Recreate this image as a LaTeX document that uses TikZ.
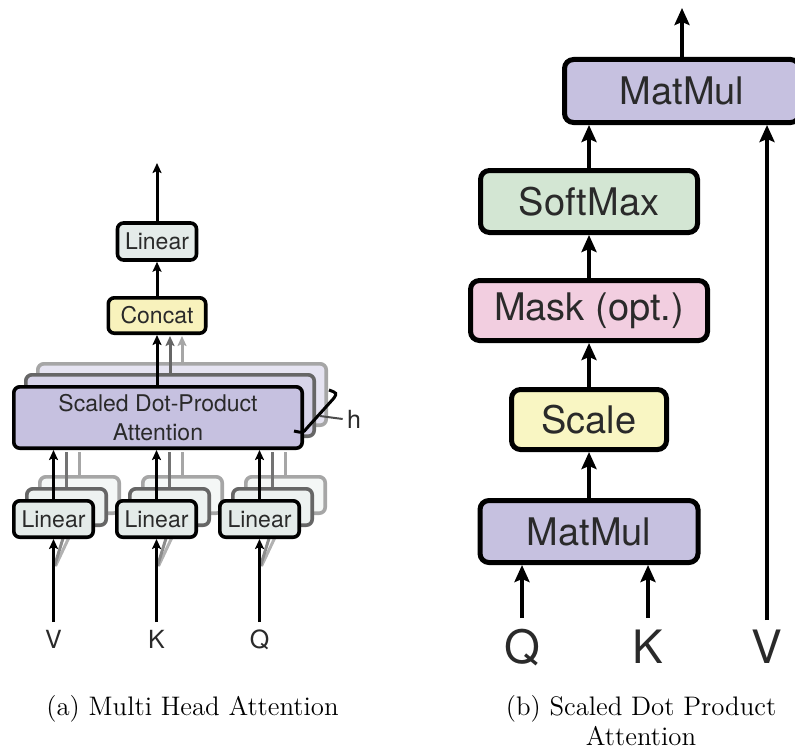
\documentclass[tikz,border=0pt]{standalone}
\usepackage{fontspec}
\usepackage{tikz}
\usetikzlibrary{arrows.meta}
\newfontfamily\diafont{TeX Gyre Heros}

\definecolor{linfill}{HTML}{E4EBE9}
\definecolor{catfill}{HTML}{F8F2BC}
\definecolor{attfill}{HTML}{C6C1E0}
\definecolor{smfill}{HTML}{D3E6D3}
\definecolor{maskfill}{HTML}{F2CEE0}
\definecolor{scfill}{HTML}{F9F6C3}
\definecolor{txt}{HTML}{2A2A2A}

\begin{document}
\begin{tikzpicture}[x=0.5pt, y=-0.5pt,
  lbox/.style={draw=black, line width=1.8pt, rounded corners=3pt, inner sep=0pt, text=txt,
    font=\diafont\fontsize{11.5}{14.5}\selectfont},
  rbox/.style={draw=black, line width=2.5pt, rounded corners=4.5pt, inner sep=0pt, text=txt,
    font=\diafont\fontsize{19}{22}\selectfont},
  larr/.style={line width=1.5pt, -{Stealth[length=5pt, width=4.5pt, inset=1pt]}},
  rarr/.style={line width=2.2pt, -{Stealth[length=8.5pt, width=7.5pt, inset=1.5pt]}}]
\useasboundingbox (0,0) rectangle (795,749);

% (a) multi head attention
% heads behind the front one
\node[lbox, draw=black!35, fill=attfill!45, minimum width=144.2pt, minimum height=30.7pt] (attC) at (182,394.5) {};
\node[lbox, draw=black!60, fill=attfill!70, minimum width=144.2pt, minimum height=30.7pt] (attB) at (170,405.5) {};
\foreach \n/\x in {V/53.5, K/156.5, Q/259.5} {
  \node[lbox, draw=black!35, fill=linfill!40, minimum width=39.7pt, minimum height=18.2pt] (lin\n C) at (\x+26,495) {};
  \node[lbox, draw=black!60, fill=linfill!65, minimum width=39.7pt, minimum height=18.2pt] (lin\n B) at (\x+13,507) {};
  \draw[line width=1.5pt, black!30] (\x+2,566) -- (lin\n C.south);
  \draw[line width=1.5pt, black!45] (\x+1,566) -- (lin\n B.south);
  \draw[line width=1.5pt, black!35] (lin\n C.north) -- (\x+26,452);
  \draw[line width=1.5pt, black!55] (lin\n B.north) -- (\x+13,452);
}
\draw[larr, black!60] (attB.north) -- (attB.north |- 0,336);
\draw[larr, black!35] (attC.north) -- (attC.north |- 0,336);

\node[lbox, fill=attfill, minimum width=144.2pt, minimum height=30.7pt, align=center] (att) at (158,417.5) {Scaled Dot-Product\\Attention};
\node[lbox, fill=catfill, minimum width=48.7pt, minimum height=17.7pt] (concat) at (157,315.5) {Concat};
\node[lbox, fill=linfill, minimum width=39.5pt, minimum height=18.5pt] (linOut) at (157,241.5) {Linear};
\coordinate (outA) at (157,163);

\foreach \n/\x in {V/53.5, K/156.5, Q/259.5} {
  \node[lbox, fill=linfill, minimum width=39.7pt, minimum height=18.2pt] (lin\n) at (\x,519) {Linear};
  \node[font=\diafont\fontsize{12.5}{14}\selectfont, text=txt, anchor=base, inner sep=0pt] (in\n) at (\x,648) {\n};
  \coordinate (src\n) at (\x,622);
  \draw[larr] (src\n) -- (lin\n.south);
  \draw[larr] (lin\n.north) -- (lin\n.north |- att.south);
}
\draw[larr] (concat.south |- att.north) -- (concat.south);
\draw[larr] (concat.north) -- (linOut.south);
\draw[larr] (linOut.north) -- (outA);

% h bracket
\node[font=\diafont\fontsize{12.5}{14}\selectfont, text=txt, inner sep=0pt] (hLbl) at (354,419) {h};
\draw[line width=1.5pt] (329,390) .. controls (337,393) .. (334,398) -- (307,428) .. controls (303,433) .. (294,431);
\draw[line width=1pt, black!70] (320,416) -- ([xshift=-2pt]hLbl.west);

% (b) scaled dot product attention
\node[rbox, fill=attfill, minimum width=117.5pt, minimum height=31.5pt] (mmTop) at (682,91) {MatMul};
\node[rbox, fill=smfill, minimum width=108.5pt, minimum height=31pt] (soft) at (589,201.5) {SoftMax};
\node[rbox, fill=maskfill, minimum width=118.5pt, minimum height=30pt] (mask) at (589,310.5) {Mask (opt.)};
\node[rbox, fill=scfill, minimum width=77.5pt, minimum height=30pt] (scale) at (589,419.5) {Scale};
\node[rbox, fill=attfill, minimum width=109pt, minimum height=31pt] (mmBot) at (589,531.5) {MatMul};
\coordinate (outB) at (682,8);

\node[font=\diafont\fontsize{23}{26}\selectfont, text=txt, anchor=base, inner sep=0pt] (qR) at (522,663) {Q};
\node[font=\diafont\fontsize{23}{26}\selectfont, text=txt, anchor=base, inner sep=0pt] (kR) at (648,663) {K};
\node[font=\diafont\fontsize{23}{26}\selectfont, text=txt, anchor=base, inner sep=0pt] (vR) at (767,663) {V};
\coordinate (qIn) at (522,618);
\coordinate (kIn) at (648,618);
\coordinate (vIn) at (767,620);

\draw[rarr] (qIn) -- (qIn |- mmBot.south);
\draw[rarr] (kIn) -- (kIn |- mmBot.south);
\draw[rarr] (vIn) -- (vIn |- mmTop.south);
\draw[rarr] (mmBot.north) -- (scale.south);
\draw[rarr] (scale.north) -- (mask.south);
\draw[rarr] (mask.north) -- (soft.south);
\draw[rarr] (soft.north) -- (soft.north |- mmTop.south);
\draw[rarr] (mmTop.north) -- (outB);

% captions
\node[font=\fontsize{13.4}{15}\selectfont, anchor=base, inner sep=0pt] (capA) at (192.5,715) {(a) Multi Head Attention};
\node[font=\fontsize{13.4}{15}\selectfont, anchor=north, align=center, inner sep=0pt] (capB) at (641,695) {(b) Scaled Dot Product\\Attention};
\end{tikzpicture}
\end{document}
